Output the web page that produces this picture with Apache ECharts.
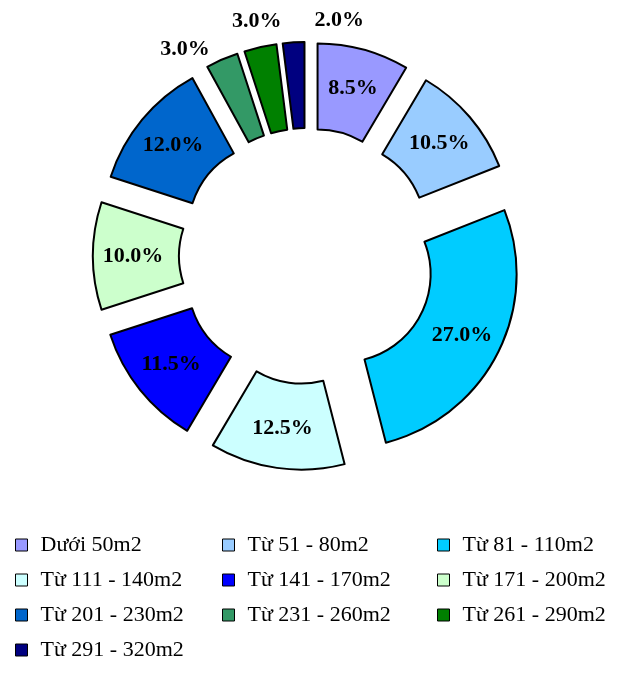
<!DOCTYPE html>
<html><head><meta charset="utf-8">
<script src="https://cdn.jsdelivr.net/npm/echarts@6/dist/echarts.min.js"></script>
<style>html,body{margin:0;padding:0;background:#fff}#c{width:628px;height:683px}</style>
</head><body><div id="c"></div>
<script>
const categories = ['Dưới 50m2','Từ 51 - 80m2','Từ 81 - 110m2','Từ 111 - 140m2','Từ 141 - 170m2','Từ 171 - 200m2','Từ 201 - 230m2','Từ 231 - 260m2','Từ 261 - 290m2','Từ 291 - 320m2'];
const values = [8.5, 10.5, 27.0, 12.5, 11.5, 10.0, 12.0, 3.0, 3.0, 2.0];
const colors = ['#9999FF','#99CCFF','#00CCFF','#CCFFFF','#0000FF','#CCFFCC','#0066CC','#339966','#008000','#000080'];
const outsideLabels = [7, 8, 9];
// small nudges for the outside labels (style only)
const labelNudge = {7: [-4, -3], 8: [28, -18], 9: [76, -14]};

const chart = echarts.init(document.getElementById('c'), null, {renderer:'canvas'});
const colLeft = [15, 222, 437];
const legends = [0,1,2].map(k => ({
  orient: 'vertical', left: colLeft[k], top: 534, padding: 0,
  itemWidth: 12, itemHeight: 12, itemGap: 13, icon: 'rect',
  selectedMode: false,
  itemStyle: {borderColor: '#000', borderWidth: 1},
  textStyle: {fontFamily: 'Liberation Serif', fontSize: 22, color: '#000', lineHeight: 22, padding: [0,0,0,8]},
  data: categories.filter((c, i) => i % 3 === k)
}));

chart.setOption({
  backgroundColor: '#fff',
  animation: false,
  legend: legends,
  series: [{
    type: 'pie',
    center: [307, 256],
    radius: [88, 174],
    startAngle: 90,
    clockwise: true,
    selectedMode: 'multiple',
    selectedOffset: 40,
    avoidLabelOverlap: false,
    emphasis: {disabled: true},
    itemStyle: {borderColor: '#000', borderWidth: 2},
    label: {
      show: true, position: 'inside',
      formatter: p => p.value.toFixed(1) + '%',
      fontFamily: 'Liberation Serif', fontWeight: 'bold', fontSize: 22, color: '#000'
    },
    labelLine: {show: false, length: 8, length2: 0},
    labelLayout: p => {
      const n = labelNudge[p.dataIndex];
      return n ? {dx: n[0], dy: n[1], hideOverlap: false} : {hideOverlap: false};
    },
    data: categories.map((n, i) => ({
      name: n, value: values[i], selected: true,
      itemStyle: {color: colors[i]},
      label: outsideLabels.includes(i) ? {position: 'outside'} : undefined
    }))
  }]
});
</script>
</body></html>
